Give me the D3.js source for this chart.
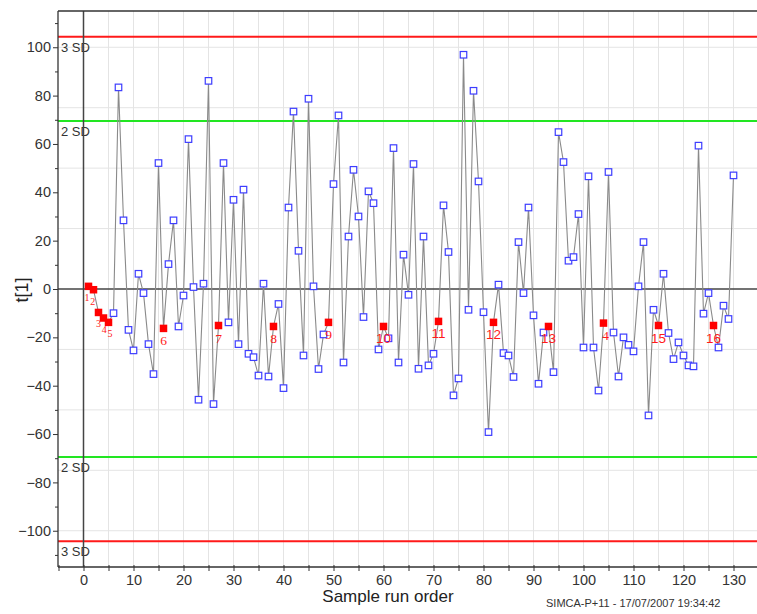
<!DOCTYPE html>
<html><head><meta charset="utf-8">
<script src="https://cdn.jsdelivr.net/npm/d3@7"></script>
<style>
html,body{margin:0;padding:0;background:#fff;}
svg{display:block;}
</style>
</head><body>
<svg id="chart" width="757" height="614"></svg>
<script>
// ---- data ----
const scoreValues = [
  1.1, -0.3, -9.7, -12.0, -13.8, -10.0, 83.4, 28.4, -16.9, -25.4,
  6.3, -1.7, -22.8, -35.2, 52.1, -16.3, 10.3, 28.4, -15.5, -2.7,
  62.0, 0.8, -45.8, 2.2, 86.1, -47.6, -15.1, 52.1, -13.8, 36.9,
  -22.8, 41.1, -26.8, -28.2, -35.8, 2.2, -36.2, -15.5, -6.2, -41.0,
  33.7, 73.4, 15.8, -27.5, 78.7, 1.1, -33.1, -18.8, -13.8, 43.4,
  71.8, -30.4, 21.7, 49.3, 30.0, -11.6, 40.4, 35.5, -25.0, -15.5,
  -20.4, 58.3, -30.4, 14.2, -2.4, 51.7, -33.0, 21.7, -31.6, -26.8,
  -13.4, 34.6, 15.3, -44.0, -37.0, 96.9, -8.6, 82.0, 44.5, -9.6,
  -59.2, -13.8, 1.8, -26.5, -27.5, -36.4, 19.4, -1.7, 33.7, -10.9,
  -39.2, -18.0, -15.5, -34.4, 64.9, 52.5, 11.7, 13.2, 31.0, -24.2,
  46.6, -24.2, -42.0, -14.1, 48.4, -18.0, -36.2, -20.0, -23.1, -25.8,
  1.1, 19.4, -52.3, -8.6, -15.1, 6.3, -18.2, -29.0, -22.1, -27.5,
  -31.6, -32.0, 59.3, -10.2, -1.7, -15.1, -24.2, -6.9, -12.4, 47.0
];
const runOrder = scoreValues.map((v, i) => i + 1);
const qcRuns = [1, 2, 3, 4, 5, 16, 27, 38, 49, 60, 71, 82, 93, 104, 115, 126];
const qcLabels = ["1", "2", "3", "4", "5", "6", "7", "8", "9", "10", "11", "12", "13", "4", "15", "16"];
const sdLimits = [
  {label: "3 SD", value: 104.3, kind: "sd3"},
  {label: "2 SD", value: 69.5, kind: "sd2"},
  {label: "2 SD", value: -69.5, kind: "sd2"},
  {label: "3 SD", value: -104.3, kind: "sd3"}
];
const xTickLabels = [0, 10, 20, 30, 40, 50, 60, 70, 80, 90, 100, 110, 120, 130];
const xMinorTicks = [-5, 5, 15, 25, 35, 45, 55, 65, 75, 85, 95, 105, 115, 125, 135];
const yTickLabels = [-100, -80, -60, -40, -20, 0, 20, 40, 60, 80, 100];
const yMinorTicks = [-110, -90, -70, -50, -30, -10, 10, 30, 50, 70, 90, 110];
const xGrid = d3.range(0, 136, 5);
const yGrid = [-100, -75, -50, -25, 25, 50, 75, 100];
const xTitle = "Sample run order";
const yTitle = "t[1]";
const footer = "SIMCA-P+11 - 17/07/2007 19:34:42";

// ---- layout ----
const svg = d3.select("#chart");
const L = 58, T = 11, B = 567, R = 758.5;
const x = d3.scaleLinear().domain([-5, 135]).range([L + 0.5, R]);
const y = d3.scaleLinear().domain([-115, 115]).range([B, T]);
const font = "Liberation Sans, Arial, sans-serif";

// grid
const g = svg.append("g");
g.selectAll(".gx").data(xGrid).enter().append("line")
  .attr("x1", d => x(d)).attr("x2", d => x(d)).attr("y1", T).attr("y2", B)
  .attr("stroke", "#e4e4e4").attr("stroke-width", 1);
g.selectAll(".gy").data(yGrid).enter().append("line")
  .attr("x1", L).attr("x2", 757).attr("y1", d => y(d)).attr("y2", d => y(d))
  .attr("stroke", "#e4e4e4").attr("stroke-width", 1);

// SD limit lines
svg.selectAll(".sd").data(sdLimits).enter().append("line")
  .attr("x1", L).attr("x2", 757)
  .attr("y1", d => y(d.value)).attr("y2", d => y(d.value))
  .attr("stroke", d => d.kind === "sd3" ? "#ff1a1a" : "#22e622")
  .attr("stroke-width", 2);
svg.selectAll(".sdl").data(sdLimits).enter().append("text")
  .attr("x", 61).attr("y", d => y(d.value) + 15)
  .attr("font-family", font).attr("font-size", 13).attr("fill", "#333")
  .text(d => d.label);

// zero lines
svg.append("line").attr("x1", L).attr("x2", 757).attr("y1", y(0)).attr("y2", y(0))
  .attr("stroke", "#444").attr("stroke-width", 1.5);
svg.append("line").attr("x1", x(0)).attr("x2", x(0)).attr("y1", T).attr("y2", B)
  .attr("stroke", "#444").attr("stroke-width", 1.5);

// frame
svg.append("line").attr("x1", L).attr("x2", 757).attr("y1", T).attr("y2", T)
  .attr("stroke", "#333").attr("stroke-width", 1.3);

// axes
const yAxis = d3.axisLeft(y).tickValues(yTickLabels).tickSize(5).tickPadding(2)
  .tickFormat(d3.format("d"));
const ya = svg.append("g").attr("transform", `translate(${L},0)`).call(yAxis);
ya.select(".domain").attr("stroke", "#333").attr("stroke-width", 1.3).attr("d", `M0,${T}V${B}`);
ya.selectAll(".tick line").attr("stroke", "#333");
ya.selectAll(".tick text").attr("font-family", font).attr("font-size", 14.5).attr("fill", "#333");
const yMinor = d3.axisLeft(y).tickValues(yMinorTicks).tickSize(3).tickFormat("");
const ym = svg.append("g").attr("transform", `translate(${L},0)`).call(yMinor);
ym.select(".domain").remove();
ym.selectAll(".tick line").attr("stroke", "#333");

const xAxis = d3.axisBottom(x).tickValues(xTickLabels).tickSize(4).tickPadding(4)
  .tickFormat(d3.format("d"));
const xa = svg.append("g").attr("transform", `translate(0,${B})`).call(xAxis);
xa.select(".domain").attr("stroke", "#333").attr("stroke-width", 1.3).attr("d", `M${L},0H757`);
xa.selectAll(".tick line").attr("stroke", "#333").attr("y1", -2);
xa.selectAll(".tick text").attr("font-family", font).attr("font-size", 14.5).attr("fill", "#333");
const xMinor = d3.axisBottom(x).tickValues(xMinorTicks).tickSize(4).tickFormat("");
const xm = svg.append("g").attr("transform", `translate(0,${B})`).call(xMinor);
xm.select(".domain").remove();
xm.selectAll(".tick line").attr("stroke", "#333").attr("y1", -2);

// titles
svg.append("text").attr("transform", `translate(28,290) rotate(-90)`)
  .attr("text-anchor", "middle").attr("font-family", font).attr("font-size", 18)
  .attr("fill", "#222").text(yTitle);
svg.append("text").attr("x", 388).attr("y", 602)
  .attr("text-anchor", "middle").attr("font-family", font).attr("font-size", 17)
  .attr("fill", "#222").text(xTitle);
svg.append("text").attr("x", 546).attr("y", 607)
  .attr("font-family", font).attr("font-size", 11).attr("fill", "#333")
  .text(footer);

// data line
const pts = runOrder.map((r, i) => ({r, v: scoreValues[i]}));
svg.append("path").datum(pts)
  .attr("fill", "none").attr("stroke", "#8a8a8a").attr("stroke-width", 1.1)
  .attr("d", d3.line().x(d => x(d.r)).y(d => y(d.v)));

// sample markers
const qcSet = new Set(qcRuns);
const s = 6.5;
svg.selectAll(".pt").data(pts.filter(d => !qcSet.has(d.r))).enter().append("rect")
  .attr("x", d => x(d.r) - s / 2).attr("y", d => y(d.v) - s / 2)
  .attr("width", s).attr("height", s)
  .attr("fill", "#fff").attr("stroke", "#3d3dff").attr("stroke-width", 1.2);

const qs = 7.5;
const qcPts = qcRuns.map((r, i) => ({r, v: scoreValues[r - 1], label: qcLabels[i], k: i}));
svg.selectAll(".qc").data(qcPts).enter().append("rect")
  .attr("x", d => x(d.r) - qs / 2).attr("y", d => y(d.v) - qs / 2)
  .attr("width", qs).attr("height", qs).attr("fill", "#ff0000");
// the first five QC runs sit 1 unit apart: smaller, slightly spread labels
svg.selectAll(".qcl").data(qcPts).enter().append("text")
  .attr("x", d => x(d.r) + (d.k < 5 ? (d.k - 2) * 0.7 : (d.label === "4" ? 2 : 0)))
  .attr("y", d => y(d.v) + (d.k < 5 ? 15 : 17))
  .attr("text-anchor", "middle")
  .attr("font-family", d => d.label.length === 1 ? "Liberation Serif, serif" : font)
  .attr("font-size", d => d.k < 5 ? 10 : 13.5).attr("fill", "#ff1a1a")
  .text(d => d.label);
</script>
</body></html>
